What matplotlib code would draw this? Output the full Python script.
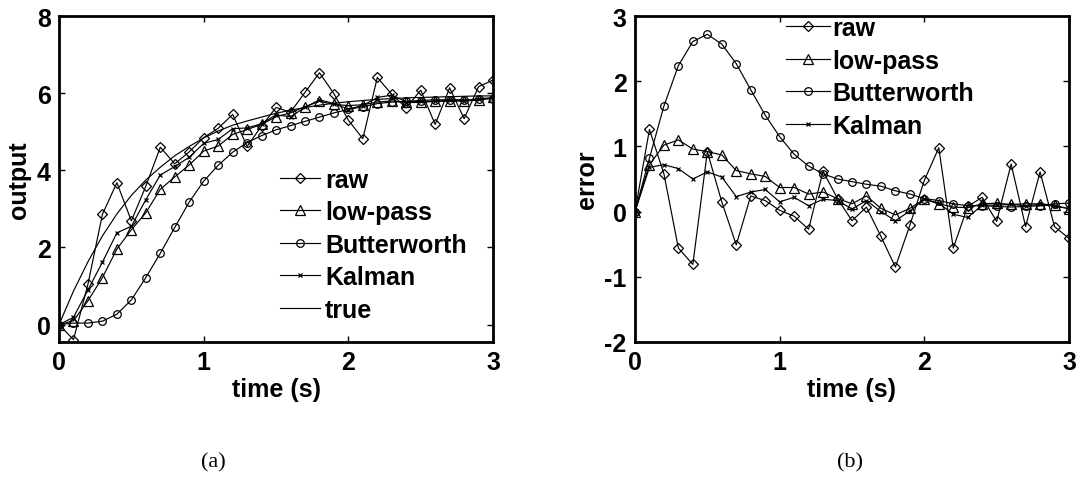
import numpy as np
import matplotlib
matplotlib.use("Agg")
import matplotlib.pyplot as plt

plt.rcParams['font.family'] = ['Liberation Sans', 'DejaVu Sans']
plt.rcParams['font.weight'] = 'bold'
plt.rcParams['axes.labelweight'] = 'bold'
plt.rcParams['axes.unicode_minus'] = False

# time samples (s)
t = np.linspace(0, 3, 31)

# (a) filter outputs
raw = [0, -0.39, 1.05, 2.86, 3.68, 2.69, 3.59, 4.60, 4.17, 4.48, 4.85, 5.09, 5.45, 4.62, 5.15, 5.63,
       5.51, 6.02, 6.53, 5.99, 5.30, 4.82, 6.41, 5.97, 5.62, 6.08, 5.19, 6.14, 5.34, 6.17, 6.34]
lowpass = [0, 0.10, 0.62, 1.22, 1.96, 2.46, 2.90, 3.51, 3.83, 4.14, 4.50, 4.63, 4.93, 5.06, 5.19, 5.39,
           5.49, 5.65, 5.79, 5.71, 5.68, 5.70, 5.77, 5.80, 5.76, 5.76, 5.79, 5.79, 5.80, 5.82, 5.89]
butter = [0, 0.04, 0.04, 0.09, 0.27, 0.64, 1.22, 1.85, 2.52, 3.18, 3.72, 4.13, 4.47, 4.72, 4.90, 5.05,
          5.16, 5.27, 5.38, 5.49, 5.58, 5.65, 5.73, 5.77, 5.79, 5.81, 5.83, 5.83, 5.83, 5.84, 5.86]
kalman = [0, 0.19, 0.90, 1.62, 2.38, 2.55, 3.24, 3.88, 4.10, 4.34, 4.70, 4.80, 5.08, 5.10, 5.21, 5.44,
          5.39, 5.63, 5.83, 5.73, 5.59, 5.68, 5.89, 5.95, 5.78, 5.79, 5.79, 5.82, 5.81, 5.86, 5.88]
true = [0, 0.87, 1.63, 2.30, 2.87, 3.35, 3.75, 4.08, 4.38, 4.62, 4.84, 5.02, 5.17, 5.28, 5.38, 5.48,
        5.56, 5.63, 5.69, 5.74, 5.78, 5.81, 5.84, 5.86, 5.88, 5.89, 5.90, 5.91, 5.92, 5.93, 5.93]

# (b) errors
raw_err = [0, 1.26, 0.58, -0.56, -0.81, 0.92, 0.15, -0.51, 0.24, 0.17, 0.02, -0.07, -0.27, 0.62, 0.20, -0.14,
           0.07, -0.38, -0.85, -0.21, 0.48, 0.98, -0.56, 0.08, 0.22, -0.15, 0.73, -0.23, 0.61, -0.23, -0.41]
lp_err = [0, 0.72, 1.02, 1.10, 0.96, 0.92, 0.87, 0.63, 0.58, 0.54, 0.37, 0.37, 0.27, 0.30, 0.20, 0.12,
          0.24, 0.05, -0.05, 0.05, 0.19, 0.12, 0.07, 0.06, 0.12, 0.13, 0.11, 0.12, 0.12, 0.10, 0.04]
bw_err = [0, 0.82, 1.62, 2.24, 2.61, 2.72, 2.57, 2.27, 1.87, 1.48, 1.15, 0.88, 0.70, 0.58, 0.50, 0.46,
          0.42, 0.39, 0.32, 0.27, 0.20, 0.17, 0.12, 0.09, 0.09, 0.08, 0.07, 0.08, 0.09, 0.12, 0.13]
kf_err = [0, 0.68, 0.72, 0.66, 0.50, 0.61, 0.53, 0.23, 0.30, 0.34, 0.15, 0.22, 0.09, 0.19, 0.17, 0.04,
          0.17, 0.00, -0.14, 0.01, 0.19, 0.13, -0.04, -0.09, 0.10, 0.10, 0.11, 0.09, 0.11, 0.08, 0.05]

names = ['raw', 'low-pass', 'Butterworth', 'Kalman', 'true']
styles = [dict(marker='D', ms=5.5), dict(marker='^', ms=6.5), dict(marker='o', ms=5.5),
          dict(marker='x', ms=2.5), dict(marker='')]

fig = plt.figure(figsize=(10.81, 4.85), dpi=100)
ax1 = fig.add_axes([0.0546, 0.2928, 0.4015, 0.672])
ax2 = fig.add_axes([0.5874, 0.2928, 0.4015, 0.672])

def draw(ax, series, labels):
    for y, lab, st in zip(series, labels, styles):
        ax.plot(t, y, color='black', lw=0.85, mfc='none', mec='black', mew=0.9, label=lab, **st)
    ax.set_xlim(0, 3)
    ax.set_xticks([0, 1, 2, 3])
    ax.tick_params(direction='in', top=True, right=True, length=4, width=1, labelsize=18, pad=6)
    for s in ax.spines.values():
        s.set_linewidth(2)
    ax.set_xlabel('time (s)', fontsize=18, labelpad=2)

draw(ax1, [raw, lowpass, butter, kalman, true], names)
ax1.set_ylim(-0.45, 8)
ax1.set_yticks([0, 2, 4, 6, 8])
ax1.set_ylabel('output', fontsize=18, labelpad=4)
ax1.legend(loc='upper left', bbox_to_anchor=(0.509, 0.535), frameon=False, fontsize=18,
           borderpad=0, borderaxespad=0, labelspacing=0.34, handlelength=1.6, handletextpad=0.2)

draw(ax2, [raw_err, lp_err, bw_err, kf_err], names[:4])
ax2.set_ylim(-2, 3)
ax2.set_yticks([-2, -1, 0, 1, 2, 3])
ax2.set_ylabel('error', fontsize=18, labelpad=4)
ax2.legend(loc='upper left', bbox_to_anchor=(0.348, 1.0), frameon=False, fontsize=18,
           borderpad=0, borderaxespad=0, labelspacing=0.34, handlelength=1.75, handletextpad=0.1)

fig.text(213 / 1081, 1 - 463 / 485, '(a)', family='Liberation Serif', weight='normal',
         fontsize=16, ha='center', va='center')
fig.text(850 / 1081, 1 - 463 / 485, '(b)', family='Liberation Serif', weight='normal',
         fontsize=16, ha='center', va='center')

fig.savefig('out.png', dpi=100)
